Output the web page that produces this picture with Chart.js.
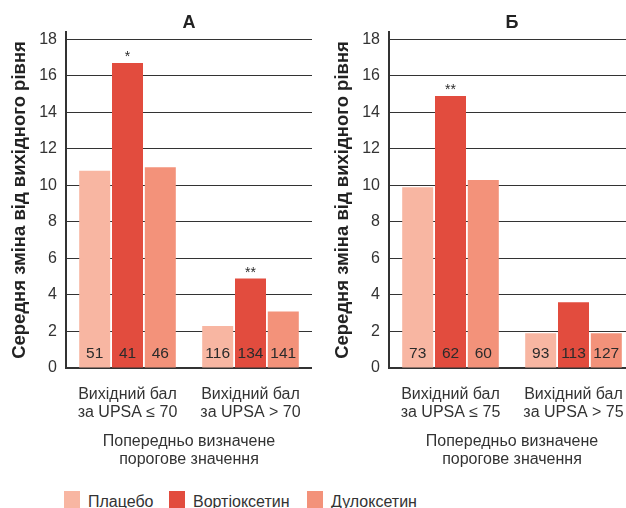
<!DOCTYPE html>
<html>
<head>
<meta charset="utf-8">
<script src="https://cdn.jsdelivr.net/npm/chart.js@4.4.0/dist/chart.umd.min.js"></script>
<style>
  html, body { margin: 0; padding: 0; background: #fff; overflow: hidden; width: 626px; height: 508px; }
  .panel { position: absolute; top: 0; width: 312px; height: 470px; }
  .item { position: absolute; top: 491px; font: 16px "Liberation Sans", Arial, sans-serif; color: #333; white-space: nowrap; }
  .item span.box { position: absolute; left: 0; top: 0; width: 16px; height: 17px; }
  .item span.lbl { position: absolute; left: 24px; top: 1px; line-height: 20px; }
</style>
</head>
<body>
<div class="panel" style="left:0"><canvas id="chartA" width="312" height="470"></canvas></div>
<div class="panel" style="left:323px"><canvas id="chartB" width="312" height="470"></canvas></div>
<div id="legend"></div>
<script>
// categories
const categoriesA = [['Вихідний бал', 'за UPSA ≤ 70'], ['Вихідний бал', 'за UPSA > 70']];
const categoriesB = [['Вихідний бал', 'за UPSA ≤ 75'], ['Вихідний бал', 'за UPSA > 75']];
const seriesNames = ['Плацебо', 'Вортіоксетин', 'Дулоксетин'];
const seriesColors = ['#F8B6A2', '#E24C3E', '#F3927A'];

// mean change from baseline
const placeboA = [10.8, 2.3];
const vortA = [16.7, 4.9];
const duloxA = [11.0, 3.1];
const placeboB = [9.9, 1.9];
const vortB = [14.9, 3.6];
const duloxB = [10.3, 1.9];

// patients per bar
const placeboNA = [51, 116];
const vortNA = [41, 134];
const duloxNA = [46, 141];
const placeboNB = [73, 93];
const vortNB = [62, 113];
const duloxNB = [60, 127];

// significance marks
const vortStarsA = ['*', '**'];
const vortStarsB = ['**', ''];

const yTickMax = 18;
const yTickStep = 2;

const FONT = '"Liberation Sans", Arial, sans-serif';

const barText = {
  id: 'barText',
  afterDatasetsDraw(chart) {
    const ctx = chart.ctx;
    const zero = chart.scales.y.getPixelForValue(0);
    ctx.save();
    ctx.fillStyle = '#2b2b2b';
    ctx.textAlign = 'center';
    chart.data.datasets.forEach((ds, i) => {
      chart.getDatasetMeta(i).data.forEach((bar, j) => {
        ctx.font = '15.5px ' + FONT;
        ctx.textBaseline = 'middle';
        ctx.fillText(String(ds.counts[j]), bar.x, zero - 14);
        const star = ds.stars ? ds.stars[j] : '';
        if (star) {
          ctx.font = '14px ' + FONT;
          ctx.textBaseline = 'alphabetic';
          ctx.fillText(star, bar.x, bar.y - 2);
        }
      });
    });
    ctx.restore();
  }
};

function makeChart(id, title, categories, values, counts, stars) {
  new Chart(document.getElementById(id), {
    type: 'bar',
    data: {
      labels: categories,
      datasets: seriesNames.map((name, i) => ({
        label: name,
        data: values[i],
        counts: counts[i],
        stars: stars[i],
        backgroundColor: seriesColors[i],
        borderWidth: 0,
        categoryPercentage: 0.8,
        barPercentage: 0.945
      }))
    },
    options: {
      responsive: false,
      animation: false,
      layout: { padding: 0 },
      plugins: {
        legend: { display: false },
        tooltip: { enabled: false },
        title: {
          display: true,
          text: title,
          fullSize: false, // centre over the plot, not the canvas
          color: '#222',
          font: { family: FONT, size: 18, weight: 'bold', lineHeight: 1 },
          padding: { top: 14, bottom: 0 }
        }
      },
      scales: {
        x: {
          afterFit(scale) { scale.height = 102; },
          // tick marks are hidden but keep their length as the label gap
          grid: { display: false, drawTicks: true, tickLength: 18 },
          border: { display: true, color: '#333', width: 2 },
          ticks: { color: '#333', padding: 0, maxRotation: 0, font: { family: FONT, size: 16, lineHeight: 1.125 } },
          title: {
            display: true,
            text: ['Попередньо визначене', 'порогове значення'],
            color: '#333',
            font: { family: FONT, size: 16, lineHeight: 1.125 },
            padding: { top: 12, bottom: 1 }
          }
        },
        y: {
          min: 0,
          max: 18.4,
          afterFit(scale) { scale.width = 66; },
          grid: { color: '#333', lineWidth: 1, drawTicks: false },
          border: { display: true, color: '#333', width: 2 },
          ticks: {
            stepSize: yTickStep,
            includeBounds: false,
            padding: 9,
            color: '#333',
            font: { family: FONT, size: 16 },
            callback: (v) => (v <= yTickMax ? v : '')
          },
          title: {
            display: true,
            text: 'Середня зміна від вихідного рівня',
            color: '#222',
            font: { family: FONT, size: 18.5, weight: 'bold' },
            padding: { top: 9, bottom: 0 }
          }
        }
      }
    },
    plugins: [barText]
  });
}

makeChart('chartA', 'А', categoriesA,
  [placeboA, vortA, duloxA],
  [placeboNA, vortNA, duloxNA],
  [null, vortStarsA, null]);

makeChart('chartB', 'Б', categoriesB,
  [placeboB, vortB, duloxB],
  [placeboNB, vortNB, duloxNB],
  [null, vortStarsB, null]);

// legend under both panels
const legendLeft = [64, 169, 307];
const legend = document.getElementById('legend');
seriesNames.forEach((name, i) => {
  const item = document.createElement('div');
  item.className = 'item';
  item.style.left = legendLeft[i] + 'px';
  const box = document.createElement('span');
  box.className = 'box';
  box.style.background = seriesColors[i];
  const lbl = document.createElement('span');
  lbl.className = 'lbl';
  lbl.textContent = name;
  item.appendChild(box);
  item.appendChild(lbl);
  legend.appendChild(item);
});
</script>
</body>
</html>
